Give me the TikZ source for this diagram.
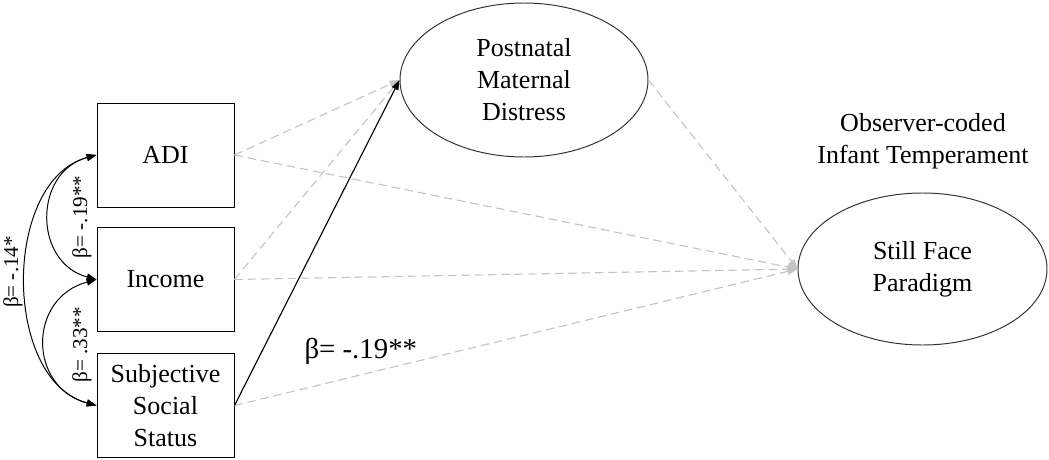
\documentclass[tikz,border=0pt]{standalone}
\usepackage{fontspec}
\setmainfont{Liberation Serif}
\usetikzlibrary{shapes.geometric, arrows.meta, positioning}
\definecolor{pathgray}{HTML}{C4C4C4}
\tikzset{
  % variabile osservata
  obsbox/.style={draw=black, line width=0.7pt, minimum width=3.425cm,
    minimum height=2.6cm, align=center, inner sep=1pt,
    font=\fontsize{18.5}{22.8}\selectfont},
  % variabile latente
  latent/.style={ellipse, draw=black!80, line width=0.7pt, align=center, inner sep=0pt,
    font=\fontsize{18.5}{22.8}\selectfont},
  % percorsi
  sigpath/.style={-{Triangle[length=7pt, width=5pt]}, line width=0.8pt, black},
  nspath/.style={-{Triangle[length=7pt, width=5pt]}, line width=0.8pt, pathgray,
    dash pattern=on 6pt off 3.5pt},
  covpath/.style={{Triangle[length=7pt, width=5pt]}-{Triangle[length=7pt, width=5pt]},
    line width=0.7pt, black},
  % etichette
  coeflbl/.style={font=\fontsize{18.5}{22.8}\selectfont, align=center},
  rotlbl/.style={font=\fontsize{15}{18}\selectfont, rotate=90},
}
\begin{document}
\begin{tikzpicture}
  \useasboundingbox (0,0) rectangle (26.225,11.475);
  \node[obsbox] (adi) at (4.1375,7.6) {ADI};
  \node[obsbox] (income) at (4.1375,4.4875) {Income};
  \node[obsbox] (sss) at (4.1375,1.3375) {Subjective\\Social\\Status};
  \node[latent, minimum width=6.2cm, minimum height=3.85cm] (distress) at (13.1,9.475)
    {Postnatal\\Maternal\\Distress};
  \node[latent, minimum width=6.225cm, minimum height=3.8cm] (sfp) at (23.0625,4.75)
    {Still Face\\Paradigm};
  \node[coeflbl] (obs) at (23.075,7.95) {Observer-coded\\Infant Temperament};
  % covarianze
  \draw[covpath] (adi.west) to[out=195, in=165, looseness=1.35] (income.west);
  \draw[covpath] (adi.west) to[out=195, in=165, looseness=1.0] (sss.west);
  \draw[covpath] (income.west) to[out=195, in=165, looseness=1.45] (sss.west);
  \node[rotlbl] (b14) at (0.325,4.675) {β= -.14*};
  \node[rotlbl] (b19) at (2.05,6.05) {β= -.19**};
  \node[rotlbl] (b33) at (2.05,2.85) {β= .33**};
  % percorsi diretti
  \draw[nspath] (adi.east) -- (distress.west);
  \draw[nspath] (income.east) -- (distress.west);
  \draw[nspath] (adi.east) -- (sfp.west);
  \draw[nspath] (income.east) -- (sfp.west);
  \draw[nspath] (sss.east) -- (sfp.west);
  \draw[nspath] (distress.east) -- (sfp.west);
  \draw[sigpath] (sss.east) -- (distress.west);
  \node[font=\fontsize{20.5}{24}\selectfont] (bsss) at (9.02,2.7) {β= -.19**};
\end{tikzpicture}
\end{document}
